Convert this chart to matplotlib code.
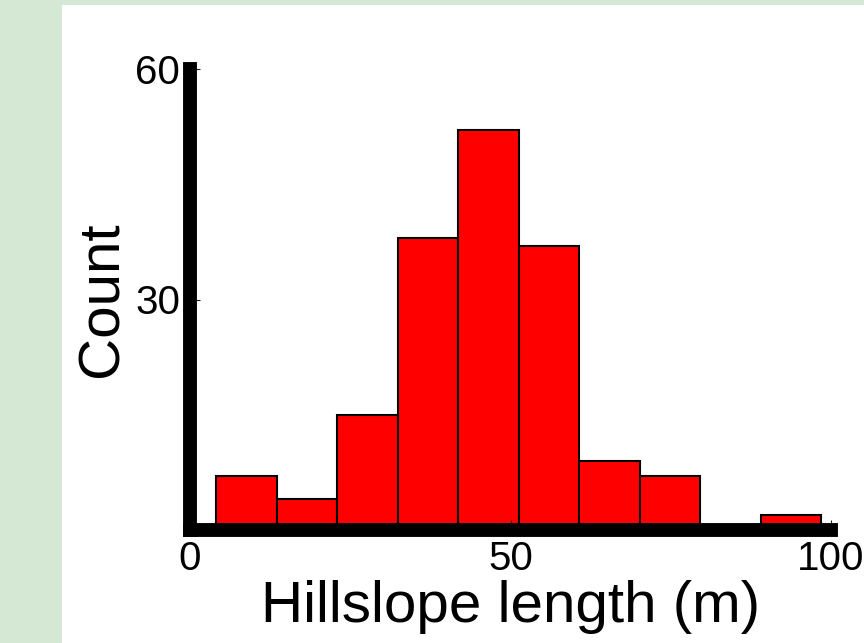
import numpy as np
import matplotlib
matplotlib.use("Agg")
import matplotlib.pyplot as plt
from matplotlib.patches import Rectangle

# Data
bin_edges = [4.1, 13.54, 22.98, 32.42, 41.86, 51.3, 60.74, 70.18, 79.62, 89.06, 98.5]
counts = [7, 4, 15, 38, 52, 37, 9, 7, 0, 2]
x_ticks = [0, 50, 100]
y_ticks = [30, 60]
x_label = "Hillslope length (m)"
y_label = "Count"

plt.rcParams['font.family'] = ['Liberation Sans', 'DejaVu Sans']

W, H = 864, 643
fig = plt.figure(figsize=(W / 100, H / 100), dpi=100, facecolor='white')

green = '#d5e8d4'
fig.patches.append(Rectangle((0, 0), 62 / W, 1, transform=fig.transFigure,
                             facecolor=green, edgecolor='none', zorder=0))
fig.patches.append(Rectangle((0, 1 - 5 / H), 1, 5 / H, transform=fig.transFigure,
                             facecolor=green, edgecolor='none', zorder=0))

ax = fig.add_axes([190 / W, 1 - 530 / H, 641 / W, 461 / H])
ax.set_facecolor('none')

ax.hist(bin_edges[:-1], bins=bin_edges, weights=counts,
        color='#ff0000', edgecolor='black', linewidth=1.5)

ax.set_xlim(0, 100)
ax.set_ylim(0, 60)
ax.set_xticks(x_ticks)
ax.set_yticks(y_ticks)

for s in ['top', 'right']:
    ax.spines[s].set_visible(False)
for s in ['left', 'bottom']:
    ax.spines[s].set_linewidth(10)
    ax.spines[s].set_zorder(5)

ax.tick_params(direction='in', length=7.2, width=0.8, color='#222222',
               labelsize=29, pad=7)

ax.set_xlabel(x_label, fontsize=42, labelpad=2)
ax.set_ylabel(y_label, fontsize=42, labelpad=4)

fig.savefig('out.png', dpi=100, facecolor='white')
